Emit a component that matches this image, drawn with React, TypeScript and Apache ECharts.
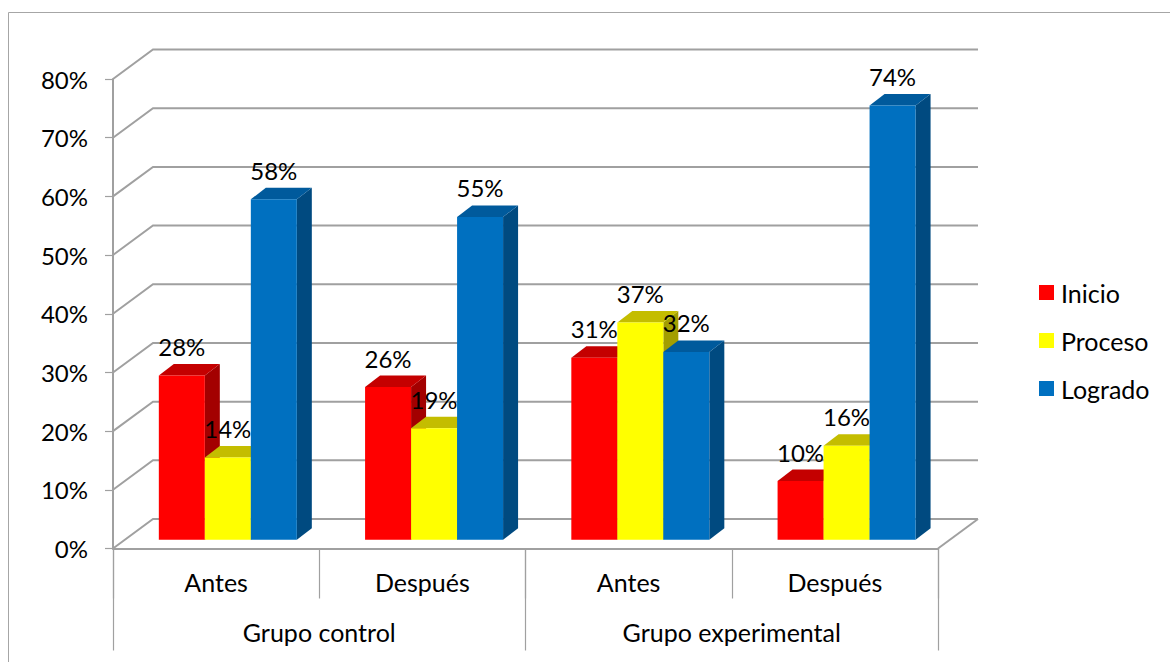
import React, { useEffect, useRef } from "react";
import * as echarts from "echarts";

const subCategories = ["Antes", "Después", "Antes", "Después"];
const groups = ["Grupo control", "Grupo experimental"];
const seriesNames = ["Inicio", "Proceso", "Logrado"];
const inicio = [28, 26, 31, 10];
const proceso = [14, 19, 37, 16];
const logrado = [58, 55, 32, 74];
const yTicks = [0, 10, 20, 30, 40, 50, 60, 70, 80];

const FONT = "Lato, 'Open Sans', sans-serif";
const TEXT = "#000000";
const GRID = "#a0a0a0";
const WALL_DX = 40;
const WALL_DY = -29.5;
const BAR_DX = 15;
const BAR_DY = -11.5;
const FLOOR_DX = 11.7;
const FLOOR_DY = -8.8;
const BAR_FRAC = 46 / 206.25;

const palette = [
  { front: "#FF0000", top: "#C40000", side: "#A30000" },
  { front: "#FFFF00", top: "#C4BD00", side: "#A39E00" },
  { front: "#0070C0", top: "#005A9C", side: "#004A80" },
];

function barGeom(api: any, seriesIdx: number) {
  const cat = api.value(0);
  const val = api.value(1);
  const band = api.size([1, 0])[0];
  const w = band * BAR_FRAC;
  const c = api.coord([cat, val]);
  const b = api.coord([cat, 0]);
  const x0 = c[0] + FLOOR_DX + (seriesIdx - 1.5) * w;
  const yTop = c[1] + FLOOR_DY;
  const yBot = b[1] + FLOOR_DY;
  return { x0, x1: x0 + w, yTop, yBot, w };
}

function makeBarSeries(name: string, values: number[], idx: number) {
  const col = palette[idx];
  return {
    type: "custom",
    name,
    z: 3 + idx,
    itemStyle: { color: col.front },
    data: values.map((v, i) => [i, v]),
    encode: { x: 0, y: 1 },
    renderItem: (_p: any, api: any) => {
      const { x0, x1, yTop, yBot } = barGeom(api, idx);
      return {
        type: "group",
        children: [
          {
            type: "polygon",
            shape: { points: [[x1, yTop], [x1 + BAR_DX, yTop + BAR_DY], [x1 + BAR_DX, yBot + BAR_DY], [x1, yBot]] },
            style: { fill: col.side },
          },
          {
            type: "polygon",
            shape: { points: [[x0, yTop], [x0 + BAR_DX, yTop + BAR_DY], [x1 + BAR_DX, yTop + BAR_DY], [x1, yTop]] },
            style: { fill: col.top },
          },
          { type: "rect", shape: { x: x0, y: yTop, width: x1 - x0, height: yBot - yTop }, style: { fill: col.front } },
        ],
      };
    },
  };
}

function makeLabelSeries(values: number[], idx: number) {
  return {
    type: "custom",
    silent: true,
    z: 10,
    data: values.map((v, i) => [i, v]),
    encode: { x: 0, y: 1 },
    renderItem: (_p: any, api: any) => {
      const { x0, x1, yTop } = barGeom(api, idx);
      return {
        type: "text",
        style: {
          text: api.value(1) + "%",
          x: (x0 + x1) / 2,
          y: yTop - 29,
          align: "center",
          verticalAlign: "middle",
          fontFamily: FONT,
          fontSize: 24,
          fill: TEXT,
        },
      };
    },
  };
}

const wallSeries = {
  type: "custom",
  silent: true,
  z: 1,
  data: yTicks.map((v) => [0, v]),
  encode: { y: 1 },
  renderItem: (_p: any, api: any) => {
    const yVal = api.value(1);
    const left = api.coord([0, yVal]);
    const band = api.size([1, 0])[0];
    const xl = left[0] - band / 2;
    const xr = xl + band * subCategories.length;
    const y = left[1];
    return {
      type: "polyline",
      shape: { points: [[xl, y], [xl + WALL_DX, y + WALL_DY], [xr + WALL_DX, y + WALL_DY]] },
      style: { fill: "none", stroke: GRID, lineWidth: 2 },
    };
  },
};

const floorEdgeSeries = {
  type: "custom",
  silent: true,
  z: 1,
  data: [[subCategories.length - 1, 0]],
  encode: { x: 0, y: 1 },
  renderItem: (_p: any, api: any) => {
    const p = api.coord([api.value(0), 0]);
    const band = api.size([1, 0])[0];
    const xr = p[0] + band / 2;
    return {
      type: "line",
      shape: { x1: xr, y1: p[1], x2: xr + WALL_DX, y2: p[1] + WALL_DY },
      style: { stroke: GRID, lineWidth: 2 },
    };
  },
};

export default function App() {
  const ref = useRef<HTMLDivElement>(null);
  useEffect(() => {
    document.body.style.margin = "0";
    const chart = echarts.init(ref.current!, undefined, { renderer: "svg" });
    chart.setOption({
      animation: false,
      backgroundColor: "#ffffff",
      textStyle: { fontFamily: FONT },
      graphic: [
        {
          type: "rect",
          silent: true,
          z: -1,
          shape: { x: 8.5, y: 12.5, width: 1200, height: 700 },
          style: { fill: "none", stroke: "#a6a6a6", lineWidth: 1 },
        },
      ],
      grid: { left: 113, top: 79, width: 825, height: 469.5 },
      legend: {
        data: seriesNames,
        orient: "vertical",
        left: 1039,
        top: 276.5,
        itemWidth: 15,
        itemHeight: 15,
        itemGap: 16,
        icon: "rect",
        padding: 0,
        textStyle: { fontFamily: FONT, fontSize: 25, color: TEXT, lineHeight: 29, padding: [0, 0, 3, 2] },
      },
      xAxis: [
        {
          type: "category",
          position: "bottom",
          data: subCategories,
          axisLine: { show: true, lineStyle: { color: GRID, width: 2 } },
          axisTick: { show: true, length: 50, lineStyle: { color: GRID, width: 1.2 } },
          axisLabel: { fontFamily: FONT, fontSize: 25, color: TEXT, margin: 21, interval: 0 },
        },
        {
          type: "category",
          position: "bottom",
          data: groups,
          axisLine: { show: false },
          axisTick: { show: true, length: 102, lineStyle: { color: GRID, width: 1.2 } },
          axisLabel: { fontFamily: FONT, fontSize: 25, color: TEXT, margin: 71, interval: 0 },
        },
      ],
      yAxis: {
        type: "value",
        min: 0,
        max: 80,
        interval: 10,
        axisLine: { show: true, lineStyle: { color: GRID, width: 2 } },
        axisTick: { show: true, length: 8, lineStyle: { color: GRID, width: 1.2 } },
        axisLabel: { fontFamily: FONT, fontSize: 24, color: TEXT, margin: 25, formatter: "{value}%" },
        splitLine: { show: false },
      },
      series: [
        wallSeries,
        floorEdgeSeries,
        makeBarSeries(seriesNames[0], inicio, 0),
        makeBarSeries(seriesNames[1], proceso, 1),
        makeBarSeries(seriesNames[2], logrado, 2),
        makeLabelSeries(inicio, 0),
        makeLabelSeries(proceso, 1),
        makeLabelSeries(logrado, 2),
      ],
    });
    return () => chart.dispose();
  }, []);
  return <div ref={ref} style={{ position: "absolute", left: 0, top: 0, width: 1170, height: 662 }} />;
}
